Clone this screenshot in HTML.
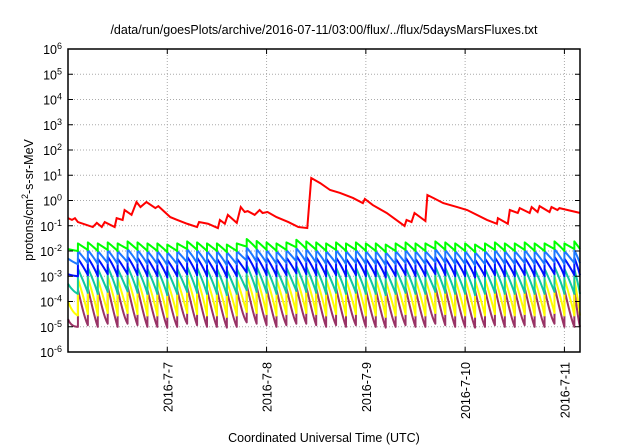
<!DOCTYPE html>
<html><head><meta charset="utf-8"><style>
body{margin:0;background:#fff;width:640px;height:448px;overflow:hidden}
svg{display:block;font-family:"Liberation Sans",sans-serif}
</style></head><body>
<svg id="chart" width="640" height="448">
<text x="324" y="34" font-size="12.5" text-anchor="middle">/data/run/goesPlots/archive/2016-07-11/03:00/flux/../flux/5daysMarsFluxes.txt</text>
<text transform="translate(33,200) rotate(-90)" font-size="12.5" text-anchor="middle">protons/cm<tspan dy="-5" font-size="9">2</tspan><tspan dy="5">-s-sr-MeV</tspan></text>
<text x="324" y="442" font-size="12.5" text-anchor="middle">Coordinated Universal Time (UTC)</text>
<g id="grid"></g><g id="series"></g><g id="axes"></g>
</svg>
<script>
const xTickDays=[7,8,9,10,11];
const xTickLabels=["2016-7-7","2016-7-8","2016-7-9","2016-7-10","2016-7-11"];
const yTickExps=[-6,-5,-4,-3,-2,-1,0,1,2,3,4,5,6];
const redDays=[6.00,6.04,6.07,6.10,6.25,6.29,6.34,6.37,6.47,6.49,6.55,6.57,6.64,6.69,6.73,6.79,6.88,6.91,7.03,7.10,7.20,7.30,7.32,7.41,7.51,7.53,7.58,7.61,7.70,7.74,7.78,7.81,7.88,7.93,7.96,8.01,8.10,8.22,8.32,8.41,8.45,8.54,8.64,8.74,8.87,8.97,8.99,9.07,9.21,9.39,9.41,9.46,9.49,9.60,9.62,9.68,9.78,9.92,10.02,10.22,10.32,10.33,10.43,10.45,10.53,10.55,10.65,10.67,10.73,10.75,10.85,10.87,10.93,10.95,11.16];
const redValues=[0.20,0.17,0.20,0.14,0.089,0.13,0.089,0.14,0.089,0.20,0.17,0.42,0.27,0.87,0.55,0.87,0.50,0.60,0.22,0.17,0.12,0.089,0.14,0.12,0.081,0.17,0.12,0.27,0.13,0.55,0.35,0.38,0.27,0.42,0.32,0.35,0.22,0.14,0.089,0.081,7.8,4.9,2.6,2.0,1.26,0.79,1.15,0.66,0.32,0.098,0.17,0.14,0.32,0.154,1.65,1.26,0.79,0.55,0.42,0.17,0.12,0.20,0.12,0.42,0.32,0.50,0.32,0.55,0.35,0.60,0.35,0.55,0.42,0.50,0.32];
const toothDays=[6.00,6.10,6.20,6.30,6.40,6.50,6.60,6.70,6.80,6.90,7.00,7.10,7.20,7.30,7.40,7.50,7.60,7.70,7.80,7.90,8.00,8.10,8.20,8.30,8.40,8.50,8.60,8.70,8.80,8.90,9.00,9.10,9.20,9.30,9.40,9.50,9.60,9.70,9.80,9.90,10.00,10.10,10.20,10.30,10.40,10.50,10.60,10.70,10.80,10.90,11.00,11.10];
const greenPeaks=[0.012,0.020,0.022,0.020,0.022,0.020,0.024,0.022,0.020,0.020,0.018,0.020,0.024,0.022,0.020,0.020,0.018,0.020,0.030,0.025,0.022,0.020,0.022,0.028,0.024,0.022,0.020,0.022,0.020,0.022,0.020,0.020,0.018,0.020,0.022,0.020,0.020,0.024,0.022,0.020,0.020,0.018,0.020,0.022,0.020,0.020,0.022,0.020,0.020,0.024,0.020,0.024];
const lblueTroughLevel=0.3, greenTroughLevel=0.5;
const lbluePeaks=[0.005,0.010,0.011,0.010,0.011,0.010,0.012,0.011,0.010,0.010,0.009,0.010,0.012,0.011,0.010,0.010,0.009,0.010,0.014,0.012,0.011,0.010,0.011,0.013,0.012,0.011,0.010,0.011,0.010,0.011,0.010,0.010,0.009,0.010,0.011,0.010,0.010,0.012,0.011,0.010,0.010,0.009,0.010,0.011,0.010,0.010,0.011,0.010,0.010,0.012,0.010,0.011];
const bluePeaks=[0.0012,0.005,0.0055,0.005,0.006,0.005,0.006,0.0055,0.005,0.005,0.0045,0.005,0.006,0.0055,0.005,0.005,0.0045,0.005,0.007,0.006,0.0055,0.005,0.0055,0.0065,0.006,0.0055,0.005,0.0055,0.005,0.0055,0.005,0.005,0.0045,0.005,0.0055,0.005,0.005,0.006,0.0055,0.005,0.005,0.0045,0.005,0.0055,0.005,0.005,0.0055,0.005,0.005,0.006,0.005,0.0055];
const blueTroughLevel=0.2;
const tealPeaks=[0.0005,0.002,0.0022,0.002,0.0024,0.002,0.0025,0.0022,0.002,0.002,0.0018,0.002,0.0024,0.0022,0.002,0.002,0.0018,0.002,0.0028,0.0024,0.0022,0.002,0.0022,0.0026,0.0024,0.0022,0.002,0.0022,0.002,0.0022,0.002,0.002,0.0018,0.002,0.0022,0.002,0.002,0.0024,0.0022,0.002,0.002,0.0018,0.002,0.0022,0.002,0.002,0.0022,0.002,0.002,0.0024,0.002,0.002];
const tealTroughLevel=0.1;
const yellowPeaks=[0.0001,0.0008,0.0009,0.0008,0.001,0.0008,0.001,0.0009,0.0008,0.0008,0.0007,0.0008,0.001,0.0009,0.0008,0.0008,0.0007,0.0008,0.0011,0.001,0.0009,0.0008,0.0009,0.001,0.001,0.0009,0.0008,0.0009,0.0008,0.0009,0.0008,0.0008,0.0007,0.0008,0.0009,0.0008,0.0008,0.001,0.0009,0.0008,0.0008,0.0007,0.0008,0.0009,0.0008,0.0008,0.0009,0.0008,0.0008,0.001,0.0008,0.0008];
const yellowTroughLevel=0.035;
const purplePeaks=[0.00002,0.0003,0.00035,0.0003,0.0004,0.0003,0.0004,0.00035,0.0003,0.0003,0.00028,0.0003,0.0004,0.00035,0.0003,0.0003,0.00028,0.0003,0.00045,0.0004,0.00035,0.0003,0.00035,0.0004,0.0004,0.00035,0.0003,0.00035,0.0003,0.00035,0.0003,0.0003,0.00028,0.0003,0.00035,0.0003,0.0003,0.0004,0.00035,0.0003,0.0003,0.00028,0.0003,0.00035,0.0003,0.0003,0.00035,0.0003,0.0003,0.0004,0.0003,0.0003];
const purpleTroughLevel=0.033;

const L=68,R=580,T=49,B=352,D0=6.0,D1=11.157;
const X=d=>L+(d-D0)/(D1-D0)*(R-L);
const Y=v=>T+(6-Math.log10(v))/12*(B-T);
const ns="http://www.w3.org/2000/svg";
function mk(tag,attrs,parent){const e=document.createElementNS(ns,tag);for(const k in attrs)e.setAttribute(k,attrs[k]);parent.appendChild(e);return e;}
const grid=document.getElementById('grid'),axes=document.getElementById('axes'),ser=document.getElementById('series');
yTickExps.forEach(p=>{const y=Y(Math.pow(10,p));
 if(p>-6&&p<6){const g=mk('line',{x1:L,x2:R,y1:y,y2:y,stroke:'#aaa','stroke-dasharray':'1,2','stroke-width':1},grid);
 
 }
 mk('line',{x1:L,x2:L+5,y1:y,y2:y,stroke:'#000'},axes);mk('line',{x1:R,x2:R-5,y1:y,y2:y,stroke:'#000'},axes);
 const t=mk('text',{x:L-6,y:y+5,'font-size':12.5,'text-anchor':'end'},axes);
 
 
 t.innerHTML='10<tspan dy="-5" font-size="9">'+p+'</tspan>';});
xTickDays.forEach((d,i)=>{const x=X(d);
 const g=mk('line',{x1:x,x2:x,y1:T,y2:B,stroke:'#aaa','stroke-dasharray':'1,2'},grid);
 
 
 mk('line',{x1:x,x2:x,y1:B,y2:B-5,stroke:'#000'},axes);mk('line',{x1:x,x2:x,y1:T,y2:T+5,stroke:'#000'},axes);
 const t=mk('text',{transform:`translate(${x+5},${B+10}) rotate(-90)`,'font-size':12.5,'text-anchor':'end'},axes);
 
 
 t.textContent=xTickLabels[i];});
const fr=mk('rect',{x:L,y:T,width:R-L,height:B-T,fill:'none',stroke:'#000','stroke-width':1.5},axes);


function saw(peaks,level,color,name,curv){
 let pts=[];
 const e=Math.exp(-curv);
 for(let i=0;i<toothDays.length;i++){const t0=toothDays[i],t1=i+1<toothDays.length?toothDays[i+1]:D1;
  const pk=peaks[i],tr=(i+1<peaks.length?peaks[i+1]:pk)*level;
  for(let s=0;s<=8;s++){const f=s/8;const w=(Math.exp(-curv*f)-e)/(1-e);const v=tr+(pk-tr)*w;pts.push([X(Math.min(t0+(t1-t0)*f,D1)),Y(Math.max(v,1e-7))]);}
 }
 const p=mk('polyline',{points:pts.map(q=>q.join(',')).join(' '),fill:'none',stroke:color,'stroke-width':2,'stroke-linejoin':'round'},ser);
 
 }
saw(purplePeaks,purpleTroughLevel,'#993366','series-purple',4);
saw(yellowPeaks,yellowTroughLevel,'#ffff00','series-yellow',3);
saw(tealPeaks,tealTroughLevel,'#10c8a0','series-teal',2);
saw(bluePeaks,blueTroughLevel,'#0010ff','series-blue',1.2);
saw(lbluePeaks,lblueTroughLevel,'#1e78ff','series-light-blue',1);
saw(greenPeaks,greenTroughLevel,'#00ff00','series-green',0.6);
const rp=mk('polyline',{points:redDays.map((d,i)=>X(d)+','+Y(redValues[i])).join(' '),fill:'none',stroke:'#ff0000','stroke-width':2},ser);


</script>
</body></html>
